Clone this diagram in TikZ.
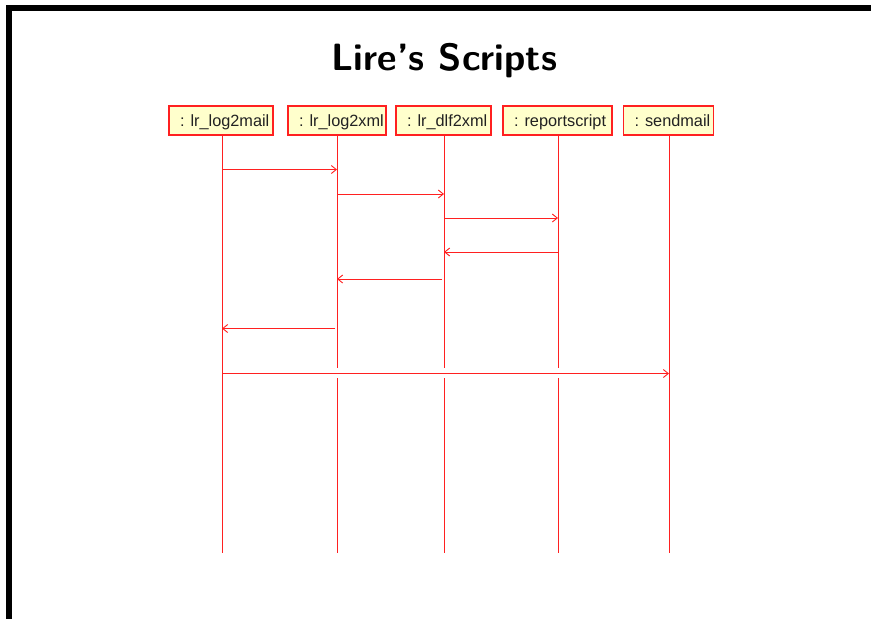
\documentclass[tikz,border=0pt]{standalone}
\usepackage{fontspec}
\newfontfamily\boxfont{Liberation Sans}
\usetikzlibrary{arrows.meta}
\definecolor{lred}{HTML}{FF2020}
\definecolor{lfill}{HTML}{FFFFCC}
\definecolor{ltext}{HTML}{222222}
\tikzset{
  actor/.style={draw=lred, line width=1.1pt, fill=lfill, minimum height=29pt, inner sep=0pt,
    text height=14pt, text depth=3pt,
    font=\boxfont\fontsize{16.3}{18}\selectfont, text=ltext},
  life/.style={draw=lred, line width=1pt},
  msg/.style={draw=lred, line width=0.9pt, -{Straight Barb[length=5pt,width=8pt,line width=0.9pt]}},
  frame/.style={fill=black, draw=none},
}
\begin{document}
\begin{tikzpicture}[x=1pt,y=-1pt]
\useasboundingbox (0,0) rectangle (871,619);
\fill[white] (0,0) rectangle (871,619);
% frame
\fill[frame] (6,5) rectangle (871,11);
\fill[frame] (6,5) rectangle (12,619);
% title
\node[font=\sffamily\bfseries\fontsize{38}{42}\selectfont] (title) at (444.5,61) {Lire's Scripts};
% actors
\node[actor, minimum width=104pt] (a1) at (221,120.5) {\makebox[98pt][l]{\hspace{8pt}: lr\_log2mail}};
\node[actor, minimum width=98pt] (a2) at (337,120.5) {\makebox[92pt][l]{\hspace{8pt}: lr\_log2xml}};
\node[actor, minimum width=95pt] (a3) at (443.5,120.5) {\makebox[89pt][l]{\hspace{8pt}: lr\_dlf2xml}};
\node[actor, minimum width=109pt] (a4) at (557.5,120.5) {\makebox[103pt][l]{\hspace{8pt}: reportscript}};
\node[actor, minimum width=90pt] (a5) at (668.5,120.5) {\makebox[84pt][l]{\hspace{8pt}: sendmail}};
% lifeline ends
\coordinate (e1) at (222,553);
\coordinate (e2) at (337,553);
\coordinate (e3) at (444,553);
\coordinate (e4) at (558,553);
\coordinate (e5) at (669,553);
% gap coordinates
\coordinate (gt) at (0,368);
\coordinate (gb) at (0,378);
\draw[life] (e1 |- a1.south) -- (e1);
\draw[life] (e2 |- a2.south) -- (e2 |- gt);
\draw[life] (e2 |- gb) -- (e2);
\draw[life] (e3 |- a3.south) -- (e3 |- gt);
\draw[life] (e3 |- gb) -- (e3);
\draw[life] (e4 |- a4.south) -- (e4 |- gt);
\draw[life] (e4 |- gb) -- (e4);
\draw[life] (e5 |- a5.south) -- (e5);
% messages
\coordinate (y1) at (0,169.5);
\coordinate (y2) at (0,194);
\coordinate (y3) at (0,218);
\coordinate (y4) at (0,252);
\coordinate (y5) at (0,279);
\coordinate (y6) at (0,328.5);
\coordinate (y7) at (0,373.5);
\draw[msg] (e1 |- y1) -- (e2 |- y1);
\draw[msg] (e2 |- y2) -- (e3 |- y2);
\draw[msg] (e3 |- y3) -- (e4 |- y3);
\draw[msg] (e4 |- y4) -- (e3 |- y4);
\draw[msg] ([xshift=-2pt]e3 |- y5) -- (e2 |- y5);
\draw[msg] ([xshift=-2pt]e2 |- y6) -- (e1 |- y6);
\draw[msg] (e1 |- y7) -- (e5 |- y7);
\end{tikzpicture}
\end{document}
